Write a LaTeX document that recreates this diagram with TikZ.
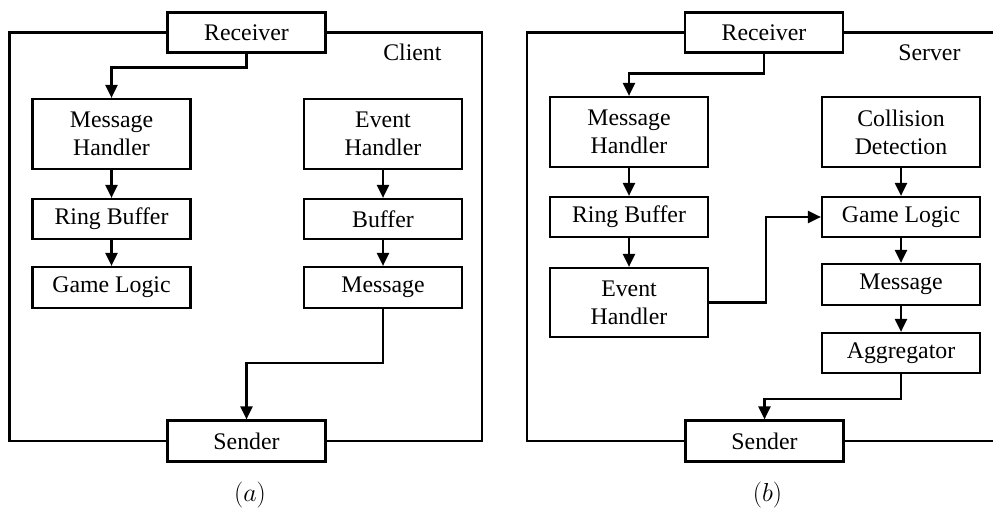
\documentclass[tikz,border=0pt]{standalone}
\usepackage{fix-cm}
\usepackage{fontspec}
\setmainfont{Liberation Serif}
\usetikzlibrary{arrows.meta}
\begin{document}
\begin{tikzpicture}[x=1pt,y=-1pt,
  every node/.style={font=\fontsize{23.8}{28}\selectfont},
  box/.style={draw, line width=2.2pt, fill=white, align=center, inner sep=0pt,
    minimum width=158pt, minimum height=40pt},
  tall/.style={box, minimum height=70pt},
  frame/.style={line width=2.2pt},
  arr/.style={line width=2.2pt, -{Triangle[length=13pt,width=12pt]}},
  caption/.style={font=\fontsize{26}{30}\selectfont, inner sep=0pt},
]
\useasboundingbox (0,0) rectangle (993,510);

% ---- (a) Client ----
\coordinate (lftA) at (9.5,0);
\coordinate (rgtA) at (482,0);
\node[box] (recA) at (246.5,32.5) {Receiver};
\node[box, minimum height=41pt] (sndA) at (246.5,441) {Sender};
\draw[frame] (recA.west) -- (recA.west -| lftA) |- (sndA.west);
\draw[frame] (recA.east) -- (recA.east -| rgtA) |- (sndA.east);
\node[anchor=base east] (cliA) at (445,61) {Client};

\node[tall] (mhA) at (111.5,134) {Message\\Handler};
\node[tall] (ehA) at (383,134) {Event\\Handler};
\node[box] (rbA) at (111.5,219) {Ring Buffer};
\node[box] (bufA) at (383,219) {Buffer};
\node[box, minimum height=41pt] (glA) at (111.5,287.5) {Game Logic};
\node[box, minimum height=41pt] (msgA) at (383,287.5) {Message};

\draw[arr] (recA.south) -- ++(0,14) -| (mhA.north);
\draw[arr] (mhA) -- (rbA);
\draw[arr] (rbA) -- (glA);
\draw[arr] (ehA) -- (bufA);
\draw[arr] (bufA) -- (msgA);
\draw[arr] (msgA.south) -- ++(0,54) -| (sndA.north);

\node[caption] (capA) at (250,495) {$(a)$};

% ---- (b) Server ----
\coordinate (lftB) at (527,0);
\coordinate (rgtB) at (993,0);
\node[box] (recB) at (764,32.5) {Receiver};
\node[box, minimum height=41pt] (sndB) at (764.5,441) {Sender};
\draw[frame] (recB.west) -- (recB.west -| lftB) |- (sndB.west);
\draw[frame] (recB.east) -- (recB.east -| rgtB);
\draw[frame] (sndB.east) -- (sndB.east -| rgtB);
\node[anchor=base east] (srvB) at (964,61) {Server};

\node[tall] (mhB) at (629,132) {Message\\Handler};
\node[tall] (cdB) at (901,132) {Collision\\Detection};
\node[box] (rbB) at (629,217) {Ring Buffer};
\node[box] (glB) at (901,217) {Game Logic};
\node[box, minimum height=69pt] (ehB) at (629,302.5) {Event\\Handler};
\node[box, minimum height=41pt] (msgB) at (901,284.5) {Message};
\node[box] (aggB) at (901,353) {Aggregator};

\draw[arr] (recB.south) -- ++(0,20) -| (mhB.north);
\draw[arr] (mhB) -- (rbB);
\draw[arr] (rbB) -- (ehB);
\draw[arr] (cdB) -- (glB);
\draw[arr] (glB) -- (msgB);
\draw[arr] (msgB) -- (aggB);
\draw[arr] (ehB.east) -- ++(57,0) |- (glB.west);
\draw[arr] (aggB.south) -- ++(0,25) -| (sndB.north);

\node[caption] (capB) at (767.5,495) {$(b)$};
\end{tikzpicture}
\end{document}
